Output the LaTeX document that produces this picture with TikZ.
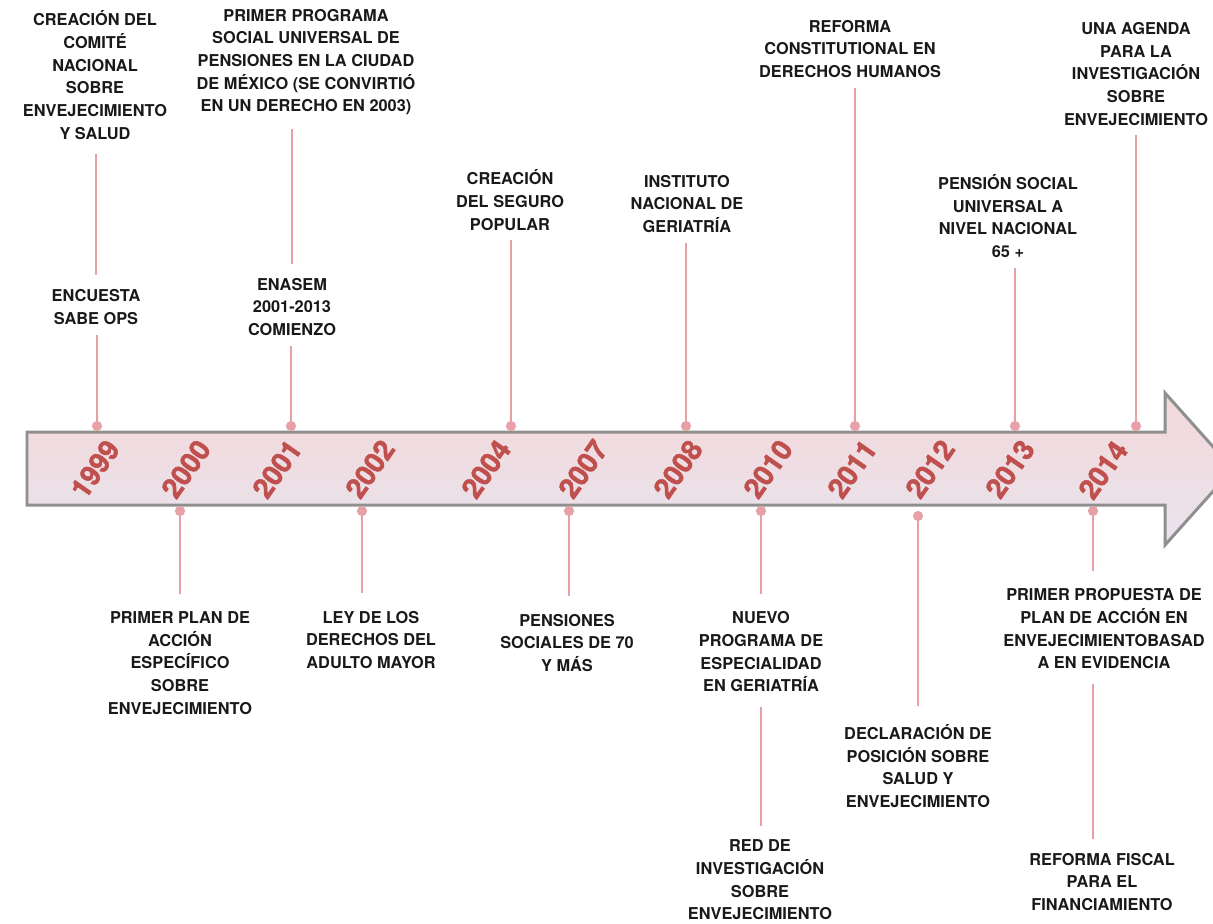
\documentclass[tikz,border=0pt]{standalone}
\usepackage{fontspec}
\setmainfont{TeX Gyre Heros}
\newfontfamily\yearfont{TeX Gyre Heros}[FakeBold=1.6]
\usetikzlibrary{arrows.meta}

\definecolor{yearred}{RGB}{192,80,77}
\definecolor{linkred}{RGB}{230,160,166}
\definecolor{bargray}{RGB}{143,143,143}
\definecolor{bartop}{RGB}{243,216,218}
\definecolor{barbottom}{RGB}{233,228,238}
\definecolor{textgray}{RGB}{25,25,25}

\begin{document}
\begin{tikzpicture}[x=0.02cm, y=-0.02cm,
    every node/.style={font=\fontsize{9.3}{12.9}\selectfont\bfseries},
    event/.style={align=center, inner sep=3pt, text=textgray},
    yearlabel/.style={font=\fontsize{16}{16}\selectfont\yearfont\bfseries, text=yearred, rotate=55, inner sep=0pt},
    link/.style={draw=linkred, line width=1.2pt},
    uplink/.style={link, -{Circle[length=5.7pt]}, shorten <=2.5pt},
    downlink/.style={link, {Circle[length=5.7pt]}-, shorten >=7pt},
    chain/.style={link, shorten <=5pt, shorten >=5pt}]

\useasboundingbox (0,0) rectangle (1213,923);
\clip (0,0) rectangle (1213,923);

% Timeline bar
\path[draw=bargray, line width=1.7pt, top color=bartop, bottom color=barbottom]
    (27,432) -- (1165,432) -- (1165,393) -- (1233,469) -- (1165,545) -- (1165,505) -- (27,505) -- cycle;

% Years
\node[yearlabel] (y1999) at (95,469) {1999};
\node[yearlabel] (y2000) at (186,469) {2000};
\node[yearlabel] (y2001) at (277,469) {2001};
\node[yearlabel] (y2002) at (370,469) {2002};
\node[yearlabel] (y2004) at (486,469) {2004};
\node[yearlabel] (y2007) at (583,469) {2007};
\node[yearlabel] (y2008) at (678,469) {2008};
\node[yearlabel] (y2010) at (768,469) {2010};
\node[yearlabel] (y2011) at (852,469) {2011};
\node[yearlabel] (y2012) at (930,469) {2012};
\node[yearlabel] (y2013) at (1010,469) {2013};
\node[yearlabel] (y2014) at (1103,470) {2014};

% Anchor points on the bar
\coordinate (d1999) at (97,431);
\coordinate (d2001) at (291,431);
\coordinate (d2004) at (511,431);
\coordinate (d2008) at (686,431);
\coordinate (d2011) at (855,431);
\coordinate (d2013) at (1015,431);
\coordinate (d2014a) at (1136,431);
\coordinate (d2000) at (180,506);
\coordinate (d2002) at (362,506);
\coordinate (d2007) at (569,506);
\coordinate (d2010) at (761,506);
\coordinate (d2012) at (918,511);
\coordinate (d2014b) at (1093,506);

% Events above the bar
\node[event] (comite) at (95,75) {CREACIÓN DEL\\COMITÉ\\NACIONAL\\SOBRE\\ENVEJECIMIENTO\\Y SALUD};
\node[event] (encuesta) at (96,307) {ENCUESTA\\SABE OPS};
\node[event] (programa) at (306,62) {PRIMER PROGRAMA\\SOCIAL UNIVERSAL DE\\PENSIONES EN LA CIUDAD\\DE MÉXICO (SE CONVIRTIÓ\\EN UN DERECHO EN 2003)};
\node[event] (enasem) at (292,307) {ENASEM\\2001-2013\\COMIENZO};
\node[event] (seguro) at (510,200) {CREACIÓN\\DEL SEGURO\\POPULAR};
\node[event] (geriatria) at (687,204) {INSTITUTO\\NACIONAL DE\\GERIATRÍA};
\node[event] (reforma) at (850,49) {REFORMA\\CONSTITUTIONAL EN\\DERECHOS HUMANOS};
\node[event] (pension) at (1008,216) {PENSIÓN SOCIAL\\UNIVERSAL A\\NIVEL NACIONAL\\65 +};
\node[event] (agenda) at (1136,74) {UNA AGENDA\\PARA LA\\INVESTIGACIÓN\\SOBRE\\ENVEJECIMIENTO};

% Events below the bar
\node[event] (plan) at (180,663) {PRIMER PLAN DE\\ACCIÓN\\ESPECÍFICO\\SOBRE\\ENVEJECIMIENTO};
\node[event] (ley) at (371,640) {LEY DE LOS\\DERECHOS DEL\\ADULTO MAYOR};
\node[event] (pensiones) at (567,643) {PENSIONES\\SOCIALES DE 70\\Y MÁS};
\node[event] (nuevo) at (761,652) {NUEVO\\PROGRAMA DE\\ESPECIALIDAD\\EN GERIATRÍA};
\node[event] (red) at (760,880) {RED DE\\INVESTIGACIÓN\\SOBRE\\ENVEJECIMIENTO};
\node[event] (declaracion) at (918,766) {DECLARACIÓN DE\\POSICIÓN SOBRE\\SALUD Y\\ENVEJECIMIENTO};
\node[event] (propuesta) at (1104,629) {PRIMER PROPUESTA DE\\PLAN DE ACCIÓN EN\\ENVEJECIMIENTOBASAD\\A EN EVIDENCIA};
\node[event] (fiscal) at (1102,882) {REFORMA FISCAL\\PARA EL\\FINANCIAMIENTO};

% Links above
\draw [chain] (comite.south -| encuesta) -- (encuesta);
\draw [chain] (programa.south -| enasem) -- (enasem);
\draw [uplink] (encuesta.south -| d1999) -- (d1999);
\draw [uplink] (enasem.south -| d2001) -- (d2001);
\draw [uplink] (seguro.south -| d2004) -- (d2004);
\draw [uplink] (geriatria.south -| d2008) -- (d2008);
\draw [uplink] (reforma.south -| d2011) -- (d2011);
\draw [uplink] (pension.south -| d2013) -- (d2013);
\draw [uplink] (agenda.south -| d2014a) -- (d2014a);

% Links below
\draw [downlink] (d2000) -- (d2000 |- plan.north);
\draw [downlink] (d2002) -- (d2002 |- ley.north);
\draw [downlink] (d2007) -- (d2007 |- pensiones.north);
\draw [downlink] (d2010) -- (d2010 |- nuevo.north);
\draw [downlink] (d2012) -- (d2012 |- declaracion.north);
\draw [downlink] (d2014b) -- (d2014b |- propuesta.north);
\draw [chain] (nuevo) -- (nuevo |- red.north);
\draw [chain] (propuesta.south -| d2014b) -- (d2014b |- fiscal.north);

\end{tikzpicture}
\end{document}
